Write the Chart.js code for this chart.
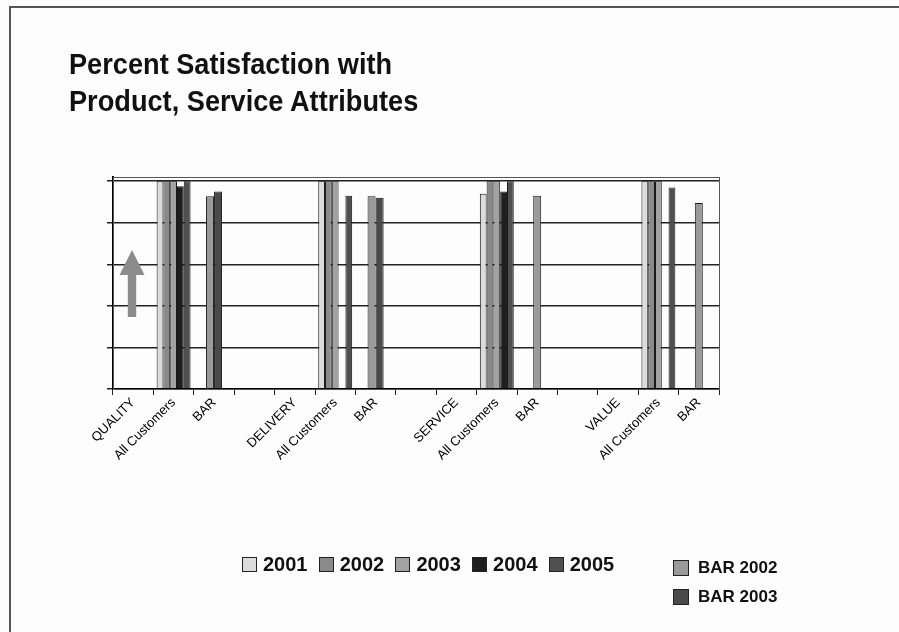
<!DOCTYPE html>
<html>
<head>
<meta charset="utf-8">
<script src="https://cdn.jsdelivr.net/npm/chart.js@4.4.1/dist/chart.umd.min.js"></script>
<style>
  body { margin: 0; background: #fdfdfd; }
  #page { position: relative; width: 899px; height: 632px; background: #fdfdfd; overflow: hidden; font-family: "Liberation Sans", Arial, sans-serif; }
  #frame { position: absolute; left: 9px; top: 6px; right: -5px; bottom: -5px; border-left: 2px solid #555; border-top: 2px solid #555; }
  #chart { position: absolute; left: 0; top: 0; }
  #title { position: absolute; left: 69px; top: 46px; font-size: 29px; font-weight: bold; line-height: 37px; color: #111; transform: scaleX(0.937); transform-origin: 0 0; white-space: nowrap; }
  .legend { position: absolute; display: flex; font-weight: bold; color: #111; }
  .item { display: flex; align-items: center; white-space: nowrap; }
  .swatch { display: inline-block; border: 1px solid #222; box-sizing: border-box; }
  #legendYears { left: 242px; top: 552px; font-size: 20px; }
  #legendYears .item { width: 76.7px; height: 24px; }
  #legendYears .swatch { width: 15px; height: 15px; margin-right: 6px; }
  #legendBar { left: 673px; top: 553px; flex-direction: column; font-size: 17px; }
  #legendBar .item { height: 29px; }
  #legendBar .swatch { width: 16px; height: 16px; margin-right: 9px; }
</style>
</head>
<body>
<div id="page">
  <div id="frame"></div>
  <canvas id="chart" width="899" height="632"></canvas>
  <div id="title">Percent Satisfaction with<br>Product, Service Attributes</div>
  <div id="legendYears" class="legend"></div>
  <div id="legendBar" class="legend"></div>
</div>
<script>
// categories along the x axis (blank ones are spacers between groups)
const categories = ["QUALITY", "All Customers", "BAR", "",
                    "DELIVERY", "All Customers", "BAR", "",
                    "SERVICE", "All Customers", "BAR", "",
                    "VALUE", "All Customers", "BAR"];

// All Customers series, by year (0 = no bar, keeps the slot empty)
const yearLabels = ["2001", "2002", "2003", "2004", "2005"];
const v2001 = [null, 100, null, null, null, 100, null, null, null, 94, null, null, null, 100, null];
const v2002 = [null, 100, null, null, null, 100, null, null, null, 100, null, null, null, 100, null];
const v2003 = [null, 100, null, null, null, 100, null, null, null, 100, null, null, null, 100, null];
const v2004 = [null, 97.5, null, null, null, 0, null, null, null, 95, null, null, null, 0, null];
const v2005 = [null, 100, null, null, null, 93, null, null, null, 100, null, null, null, 97, null];
const yearColors = ["#dcdcdc", "#8a8a8a", "#a2a2a2", "#1e1e1e", "#505050"];

// BAR series
const barLabels = ["BAR 2002", "BAR 2003"];
const vBar2002 = [null, null, 92.7, null, null, null, 92.7, null, null, null, 93, null, null, null, 89.5];
const vBar2003 = [null, null, 95, null, null, null, 92, null, null, null, null, null, null, null, null];
const barColors = ["#9a9a9a", "#4a4a4a"];

const yearValues = [v2001, v2002, v2003, v2004, v2005];
const barValues = [vBar2002, vBar2003];

const datasets = [];
yearLabels.forEach((lab, i) => {
  datasets.push({
    label: lab, data: yearValues[i],
    backgroundColor: yearColors[i], borderColor: "#1a1a1a", borderWidth: 1,
    categoryPercentage: 0.84, barPercentage: 1, skipNull: true
  });
});
barLabels.forEach((lab, i) => {
  datasets.push({
    label: lab, data: barValues[i],
    backgroundColor: barColors[i], borderColor: "#1a1a1a", borderWidth: 1,
    categoryPercentage: 0.4, barPercentage: 1, maxBarThickness: 8, skipNull: true
  });
});

// plot frame and the grey up arrow
const framePlugin = {
  id: "frame",
  beforeDatasetsDraw(chart) {
    const { ctx, chartArea: a } = chart;
    ctx.save();
    ctx.strokeStyle = "#555";
    ctx.lineWidth = 1;
    ctx.strokeRect(a.left + 0.5, a.top + 0.5, a.right - a.left, a.bottom - a.top);
    const x = a.left + 19, y = a.top + 73;
    ctx.fillStyle = "#8c8c8c";
    ctx.beginPath();
    ctx.moveTo(x, y);
    ctx.lineTo(x + 12.5, y + 25);
    ctx.lineTo(x + 4.2, y + 25);
    ctx.lineTo(x + 4.2, y + 67);
    ctx.lineTo(x - 4.2, y + 67);
    ctx.lineTo(x - 4.2, y + 25);
    ctx.lineTo(x - 12.5, y + 25);
    ctx.closePath();
    ctx.fill();
    ctx.restore();
  }
};

new Chart(document.getElementById("chart"), {
  type: "bar",
  data: { labels: categories, datasets: datasets },
  options: {
    responsive: false,
    animation: false,
    devicePixelRatio: 1,
    layout: { padding: { left: 107, right: 180, top: 177, bottom: 143 } },
    plugins: {
      legend: { display: false },
      tooltip: { enabled: false }
    },
    scales: {
      x: {
        offset: true,
        afterFit: (s) => { s.height = 100; },
        grid: { offset: true, drawOnChartArea: false, drawTicks: true, tickLength: 6, color: "#222" },
        border: { color: "#000", width: 2 },
        ticks: {
          autoSkip: false, maxRotation: 45, minRotation: 45, padding: 0, color: "#000",
          font: { family: "Liberation Sans", size: 13 }
        }
      },
      y: {
        min: 0, max: 102,
        afterFit: (s) => { s.width = 6; },
        ticks: { display: false, stepSize: 20, includeBounds: false },
        grid: { color: "#222", lineWidth: 1.5, tickLength: 6, drawTicks: true },
        border: { color: "#000", width: 2 }
      }
    }
  },
  plugins: [framePlugin]
});

// legends built from the same series arrays
function addItems(el, labels, colors) {
  labels.forEach((lab, i) => {
    const it = document.createElement("div");
    it.className = "item";
    const sw = document.createElement("span");
    sw.className = "swatch";
    sw.style.background = colors[i];
    it.appendChild(sw);
    it.appendChild(document.createTextNode(lab));
    el.appendChild(it);
  });
}
addItems(document.getElementById("legendYears"), yearLabels, yearColors);
addItems(document.getElementById("legendBar"), barLabels, barColors);
</script>
</body>
</html>
